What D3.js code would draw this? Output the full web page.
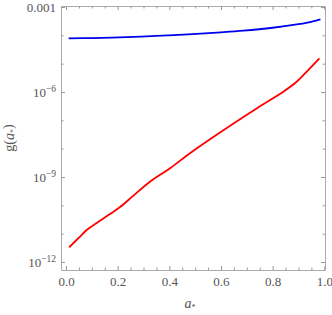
<!DOCTYPE html>
<html>
<head>
<meta charset="utf-8">
<script src="https://cdn.jsdelivr.net/npm/d3@7"></script>
<style>
  body { margin: 0; background: #fff; }
  text { font-family: "Liberation Serif", "DejaVu Serif", serif; fill: #555; }
</style>
</head>
<body>
<div id="chart"></div>
<script>
// values
const blueSpin = [0.01, 0.1, 0.235, 0.35, 0.49, 0.6, 0.686, 0.8, 0.88, 0.94, 0.985];
const blueG = [7.85e-5, 8.0e-5, 8.6e-5, 9.5e-5, 1.11e-4, 1.28e-4, 1.46e-4, 1.85e-4, 2.32e-4, 2.88e-4, 3.67e-4];

const redSpin = [0.012, 0.05, 0.08, 0.119, 0.17, 0.209, 0.261, 0.325, 0.403, 0.48, 0.609, 0.738, 0.841, 0.893, 0.932, 0.981];
const redG = [3.31e-12, 7.2e-12, 1.35e-11, 2.4e-11, 4.9e-11, 8.7e-11, 2.2e-10, 6.8e-10, 2.04e-9, 6.92e-9, 4.47e-8, 2.63e-7, 1.02e-6, 2.29e-6, 5.25e-6, 1.55e-5];

const xTicks = [0, 0.2, 0.4, 0.6, 0.8, 1.0];
const xTickLabels = ["0.0", "0.2", "0.4", "0.6", "0.8", "1.0"];
const yTicks = [1e-3, 1e-6, 1e-9, 1e-12];
const yTickLabels = [["0.001", null], ["10", "\u22126"], ["10", "\u22129"], ["10", "\u221212"]];

const W = 332, H = 315;
const mLeft = 61, mRight = 325, mTop = 6, mBottom = 270;

const x = d3.scaleLinear().domain([-0.0194, 1.0027]).range([mLeft, mRight]);
const y = d3.scaleLog().domain([Math.pow(10, -12.282), Math.pow(10, -2.965)]).range([mBottom, mTop]);

const svg = d3.select("#chart").append("svg")
    .attr("width", W)
    .attr("height", H);

const xMinor = d3.range(0, 1.0001, 0.05).filter(v => Math.abs(v * 5 - Math.round(v * 5)) > 1e-6);
const yMinor = d3.range(-12, -2).map(e => Math.pow(10, e))
    .filter(v => !yTicks.some(t => Math.abs(Math.log10(t) - Math.log10(v)) < 1e-6));

function styleAxis(g) {
    g.selectAll("path").attr("stroke", "#aaa");
    g.selectAll("line").attr("stroke", "#999");
}

// bottom
svg.append("g")
    .attr("transform", `translate(0,${mBottom})`)
    .call(d3.axisBottom(x).tickValues(xTicks).tickSizeInner(-4).tickSizeOuter(0).tickPadding(7)
        .tickFormat((d, i) => xTickLabels[i]))
    .call(g => g.selectAll("text").style("font-size", "13px").style("fill", "#555"))
    .call(styleAxis);
svg.append("g")
    .attr("transform", `translate(0,${mBottom})`)
    .call(d3.axisBottom(x).tickValues(xMinor).tickSizeInner(-2.5).tickSizeOuter(0).tickFormat(""))
    .call(g => g.select("path").remove())
    .call(styleAxis);
// top
svg.append("g")
    .attr("transform", `translate(0,${mTop})`)
    .call(d3.axisTop(x).tickValues(xTicks).tickSizeInner(-4).tickSizeOuter(0).tickFormat(""))
    .call(styleAxis);
svg.append("g")
    .attr("transform", `translate(0,${mTop})`)
    .call(d3.axisTop(x).tickValues(xMinor).tickSizeInner(-2.5).tickSizeOuter(0).tickFormat(""))
    .call(g => g.select("path").remove())
    .call(styleAxis);

// left
const yLeft = svg.append("g")
    .attr("transform", `translate(${mLeft},0)`)
    .call(d3.axisLeft(y).tickValues(yTicks).tickSizeInner(-4).tickSizeOuter(0).tickPadding(5).tickFormat(""))
    .call(styleAxis);
yLeft.selectAll(".tick text").each(function (d, i) {
    const t = d3.select(this).style("font-size", "13px").style("fill", "#555");
    const lab = yTickLabels[i];
    t.append("tspan").text(lab[0]);
    if (lab[1]) t.append("tspan").attr("dy", "-0.45em").style("font-size", "9.5px").text(lab[1]);
});
svg.append("g")
    .attr("transform", `translate(${mLeft},0)`)
    .call(d3.axisLeft(y).tickValues(yMinor).tickSizeInner(-2.5).tickSizeOuter(0).tickFormat(""))
    .call(g => g.select("path").remove())
    .call(styleAxis);
// right
svg.append("g")
    .attr("transform", `translate(${mRight},0)`)
    .call(d3.axisRight(y).tickValues(yTicks).tickSizeInner(-4).tickSizeOuter(0).tickFormat(""))
    .call(styleAxis);
svg.append("g")
    .attr("transform", `translate(${mRight},0)`)
    .call(d3.axisRight(y).tickValues(yMinor).tickSizeInner(-2.5).tickSizeOuter(0).tickFormat(""))
    .call(g => g.select("path").remove())
    .call(styleAxis);

const line = d3.line()
    .x(d => x(d[0]))
    .y(d => y(d[1]))
    .curve(d3.curveCatmullRom.alpha(0.5));

svg.append("path")
    .datum(blueSpin.map((s, i) => [s, blueG[i]]))
    .attr("d", line)
    .attr("fill", "none")
    .attr("stroke", "#0000ee")
    .attr("stroke-width", 1.8);

svg.append("path")
    .datum(redSpin.map((s, i) => [s, redG[i]]))
    .attr("d", line)
    .attr("fill", "none")
    .attr("stroke", "#ff0000")
    .attr("stroke-width", 1.8);

// axis labels
const xl = svg.append("text")
    .attr("x", (mLeft + mRight) / 2 - 3)
    .attr("y", 308)
    .attr("text-anchor", "middle")
    .style("font-size", "14px");
xl.append("tspan").style("font-style", "italic").text("a");
xl.append("tspan").attr("dy", "0.25em").style("font-size", "8px").text("*");

const yl = svg.append("text")
    .attr("transform", `translate(14,${(mTop + mBottom) / 2}) rotate(-90)`)
    .attr("text-anchor", "middle")
    .style("font-size", "14px");
yl.append("tspan").text("g(");
yl.append("tspan").style("font-style", "italic").text("a");
yl.append("tspan").attr("dy", "0.25em").style("font-size", "8px").text("*");
yl.append("tspan").attr("dy", "-0.25em").text(")");
</script>
</body>
</html>
